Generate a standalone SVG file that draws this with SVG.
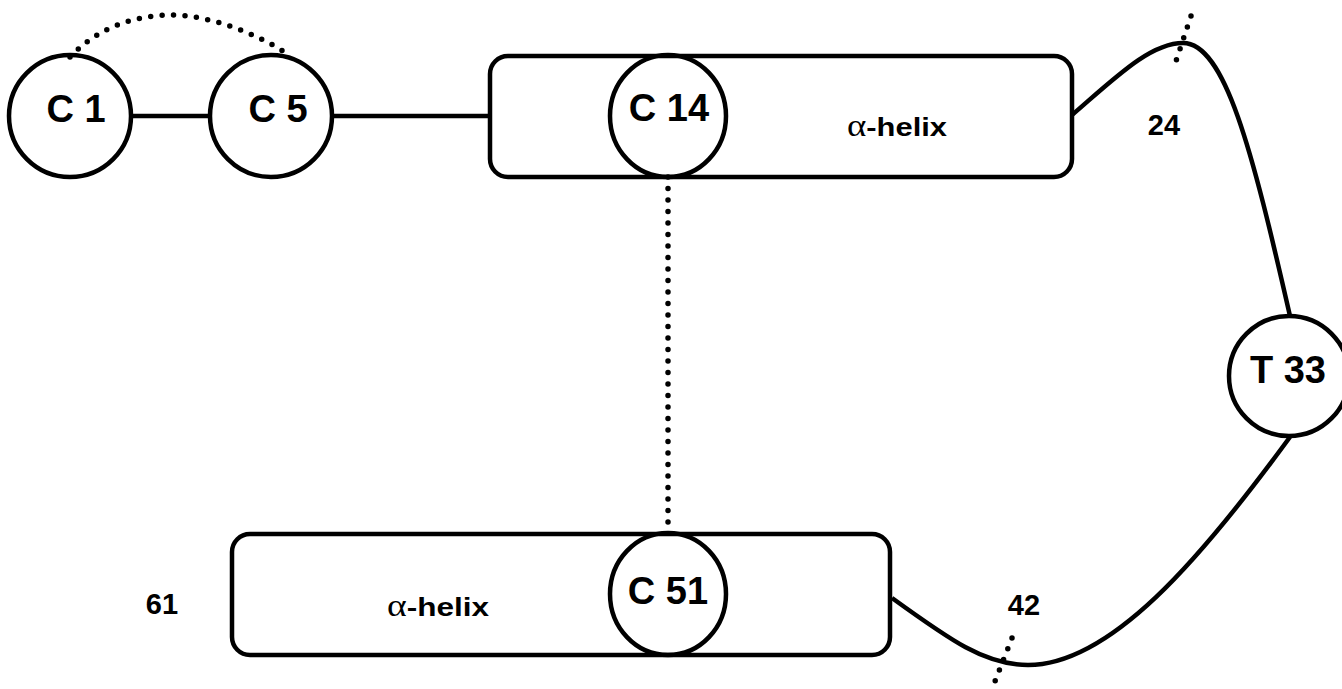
<svg xmlns="http://www.w3.org/2000/svg" width="1342" height="689" viewBox="0 0 1342 689">
  <style>
    .shape { fill: #fff; stroke: #000; stroke-width: 4.5; }
    .ring { fill: none; stroke: #000; stroke-width: 4.5; }
    .line { fill: none; stroke: #000; stroke-width: 4.5; }
    .dots { fill: none; stroke: #000; stroke-width: 5.5; stroke-linecap: round; stroke-dasharray: 0 11.5; }
    .lbl { font-family: "Liberation Sans", Arial, sans-serif; font-weight: bold; font-size: 38px; text-anchor: middle; fill: #000; }
    .num { font-family: "Liberation Sans", Arial, sans-serif; font-weight: bold; font-size: 29px; text-anchor: middle; fill: #000; }
    .helix { font-family: "Liberation Sans", Arial, sans-serif; font-size: 26px; fill: #000; }
    .helix .a { font-family: "Liberation Serif", "Times New Roman", serif; font-size: 31px; }
    .helix .b { font-weight: bold; }
  </style>
  <rect width="1342" height="689" fill="#fff"/>

  <!-- backbone -->
  <g id="connectors">
    <line class="line" x1="131" y1="116" x2="210" y2="116"/>
    <line class="line" x1="332" y1="116" x2="490" y2="116"/>
    <path class="line" d="M1072,115 C1115,78 1150,43 1183,43 C1225,43 1252,150 1290,316"/>
    <path class="line" d="M892,598 C950,640 985,665 1028,665 C1110,665 1200,560 1290,437"/>
  </g>

  <g id="helix1">
    <rect class="shape" x="490" y="56" width="582" height="121" rx="18"/>
    <text class="helix" x="847" y="136" textLength="100" lengthAdjust="spacingAndGlyphs"><tspan class="a">α</tspan><tspan class="b">-helix</tspan></text>
  </g>

  <g id="helix2">
    <rect class="shape" x="232" y="534" width="658" height="121" rx="18"/>
    <text class="helix" x="387" y="616" textLength="102" lengthAdjust="spacingAndGlyphs"><tspan class="a">α</tspan><tspan class="b">-helix</tspan></text>
  </g>

  <g id="c1">
    <circle class="shape" cx="70" cy="116" r="61"/>
    <text class="lbl" x="76" y="122">C 1</text>
  </g>

  <g id="c5">
    <circle class="shape" cx="271" cy="116" r="61"/>
    <text class="lbl" x="278" y="122">C 5</text>
  </g>

  <g id="c14">
    <ellipse class="ring" cx="668" cy="116" rx="58" ry="61"/>
    <text class="lbl" x="669" y="121">C 14</text>
  </g>

  <g id="c51">
    <ellipse class="ring" cx="668" cy="594" rx="58" ry="61"/>
    <text class="lbl" x="668" y="604">C 51</text>
  </g>

  <g id="t33">
    <circle class="shape" cx="1289" cy="376" r="60"/>
    <text class="lbl" x="1288" y="383">T 33</text>
  </g>

  <!-- disulfide bonds and cut marks, drawn over the residues -->
  <g id="bonds">
    <path class="dots" d="M70,57 C100,25 140,15 172,15 C210,15 260,35 289,55"/>
    <line class="dots" x1="668" y1="177" x2="668" y2="533"/>
    <line class="dots" x1="1191" y1="16" x2="1173" y2="70"/>
    <line class="dots" x1="1012" y1="638" x2="992" y2="689"/>
  </g>

  <g id="labels">
    <text class="num" x="1164" y="135">24</text>
    <text class="num" x="1024" y="615">42</text>
    <text class="num" x="162" y="614">61</text>
  </g>
</svg>
